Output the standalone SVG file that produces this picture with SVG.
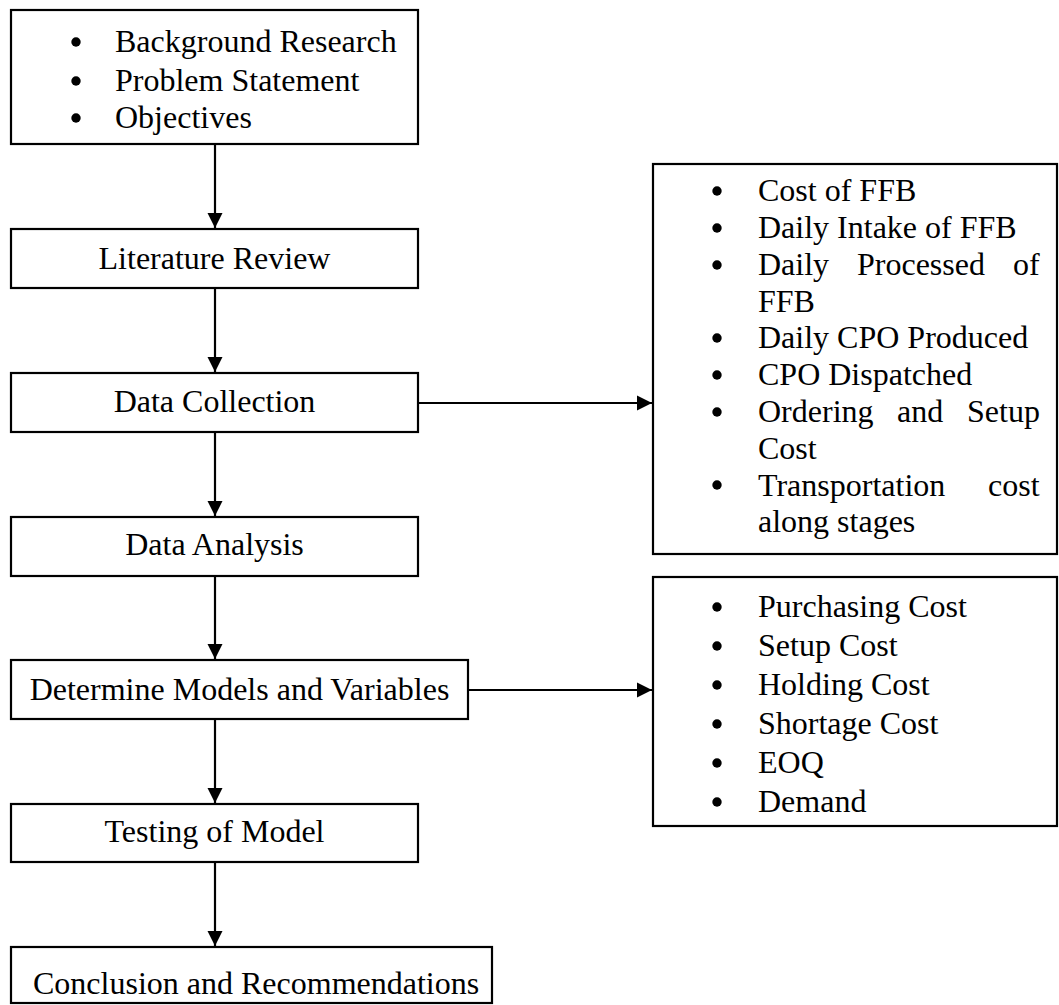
<svg xmlns="http://www.w3.org/2000/svg" width="1059" height="1005" viewBox="0 0 1059 1005">
<defs>
<style>
.box{fill:#fff;stroke:#000;stroke-width:2.2}
.t{font-family:"Liberation Serif","Times New Roman",serif;font-size:32px;fill:#000}
.c{text-anchor:middle}
.b{fill:#000}
.ln{stroke:#000;stroke-width:2.2;fill:none}
</style>
<marker id="ah" viewBox="0 0 10 10" refX="10" refY="5" markerWidth="7" markerHeight="7" orient="auto" markerUnits="strokeWidth">
<path d="M0,0 L10,5 L0,10 z" fill="#000"/>
</marker>
</defs>
<rect width="1059" height="1005" fill="#fff"/>
<g id="connectors">
<line class="ln" x1="215" y1="144" x2="215" y2="228" marker-end="url(#ah)"/>
<line class="ln" x1="215" y1="288" x2="215" y2="372" marker-end="url(#ah)"/>
<line class="ln" x1="215" y1="432" x2="215" y2="516" marker-end="url(#ah)"/>
<line class="ln" x1="215" y1="576" x2="215" y2="659" marker-end="url(#ah)"/>
<line class="ln" x1="215" y1="719" x2="215" y2="803" marker-end="url(#ah)"/>
<line class="ln" x1="215" y1="862" x2="215" y2="946" marker-end="url(#ah)"/>
<line class="ln" x1="418" y1="403" x2="652" y2="403" marker-end="url(#ah)"/>
<line class="ln" x1="468" y1="690" x2="652" y2="690" marker-end="url(#ah)"/>
</g>
<g id="intro">
<rect class="box" x="11" y="10" width="407" height="134"/>
<circle class="b" cx="76" cy="42" r="4.7"/>
<circle class="b" cx="76" cy="81" r="4.7"/>
<circle class="b" cx="76" cy="118" r="4.7"/>
<text class="t" x="115" y="52">Background Research</text>
<text class="t" x="115" y="91">Problem Statement</text>
<text class="t" x="115" y="128">Objectives</text>
</g>
<g id="literature">
<rect class="box" x="11" y="229" width="407" height="59"/>
<text class="t c" x="214.5" y="269">Literature Review</text>
</g>
<g id="collection">
<rect class="box" x="11" y="373" width="407" height="59"/>
<text class="t c" x="214.5" y="412">Data Collection</text>
</g>
<g id="analysis">
<rect class="box" x="11" y="517" width="407" height="59"/>
<text class="t c" x="214.5" y="555">Data Analysis</text>
</g>
<g id="determine">
<rect class="box" x="11" y="660" width="457" height="59"/>
<text class="t c" x="239.5" y="700">Determine Models and Variables</text>
</g>
<g id="testing">
<rect class="box" x="11" y="804" width="407" height="58"/>
<text class="t c" x="214.5" y="842">Testing of Model</text>
</g>
<g id="conclusion">
<rect class="box" x="11" y="947" width="481" height="56"/>
<text class="t" x="33" y="994">Conclusion and Recommendations</text>
</g>
<g id="data-items">
<rect class="box" x="653" y="164" width="404" height="390"/>
<circle class="b" cx="717" cy="191" r="4.7"/>
<circle class="b" cx="717" cy="228" r="4.7"/>
<circle class="b" cx="717" cy="265" r="4.7"/>
<circle class="b" cx="717" cy="338" r="4.7"/>
<circle class="b" cx="717" cy="375" r="4.7"/>
<circle class="b" cx="717" cy="412" r="4.7"/>
<circle class="b" cx="717" cy="485" r="4.7"/>
<text class="t" x="758" y="201">Cost of FFB</text>
<text class="t" x="758" y="238">Daily Intake of FFB</text>
<text class="t" y="275"><tspan x="758">Daily</tspan><tspan x="857">Processed</tspan><tspan x="1013">of</tspan></text>
<text class="t" x="758" y="312">FFB</text>
<text class="t" x="758" y="348">Daily CPO Produced</text>
<text class="t" x="758" y="385">CPO Dispatched</text>
<text class="t" y="422"><tspan x="758">Ordering</tspan><tspan x="897">and</tspan><tspan x="967">Setup</tspan></text>
<text class="t" x="758" y="459">Cost</text>
<text class="t" y="496"><tspan x="758">Transportation</tspan><tspan x="988">cost</tspan></text>
<text class="t" x="758" y="532">along stages</text>
</g>
<g id="model-items">
<rect class="box" x="653" y="577" width="404" height="249"/>
<circle class="b" cx="717" cy="607" r="4.7"/>
<circle class="b" cx="717" cy="646" r="4.7"/>
<circle class="b" cx="717" cy="685" r="4.7"/>
<circle class="b" cx="717" cy="724" r="4.7"/>
<circle class="b" cx="717" cy="763" r="4.7"/>
<circle class="b" cx="717" cy="802" r="4.7"/>
<text class="t" x="758" y="617">Purchasing Cost</text>
<text class="t" x="758" y="656">Setup Cost</text>
<text class="t" x="758" y="695">Holding Cost</text>
<text class="t" x="758" y="734">Shortage Cost</text>
<text class="t" x="758" y="773">EOQ</text>
<text class="t" x="758" y="812">Demand</text>
</g>
</svg>
